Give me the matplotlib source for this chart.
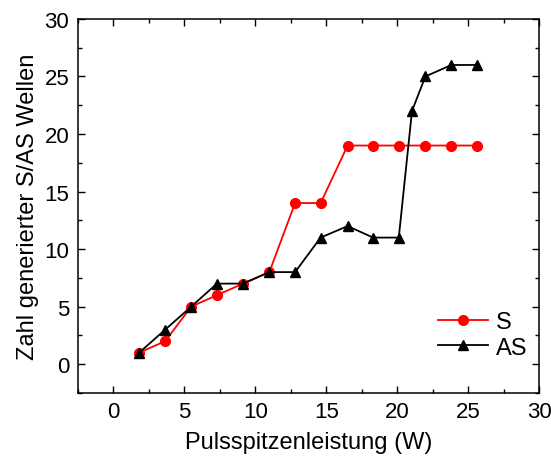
import matplotlib
matplotlib.use("Agg")
import matplotlib.pyplot as plt
from matplotlib.ticker import MultipleLocator

plt.rcParams['font.family'] = ['Liberation Sans', 'DejaVu Sans']

# Daten
leistung_s = [1.83, 3.66, 5.49, 7.3, 9.14, 10.99, 12.8, 14.6, 16.5, 18.3, 20.1, 21.97, 23.8, 25.6]
anzahl_s = [1, 2, 5, 6, 7, 8, 14, 14, 19, 19, 19, 19, 19, 19]

leistung_as = [1.83, 3.66, 5.49, 7.3, 9.14, 10.99, 12.8, 14.6, 16.5, 18.3, 20.1, 21.03, 21.97, 23.8, 25.6]
anzahl_as = [1, 3, 5, 7, 7, 8, 8, 11, 12, 11, 11, 22, 25, 26, 26]

fig, ax = plt.subplots(figsize=(5.51, 4.64), dpi=100)
fig.subplots_adjust(left=0.141, right=0.979, top=0.957, bottom=0.151)

ax.plot(leistung_s, anzahl_s, color='#ff0000', marker='o', markersize=7,
        linewidth=1.3, label='S')
ax.plot(leistung_as, anzahl_as, color='black', marker='^', markersize=7.5,
        linewidth=1.3, label='AS')

ax.set_xlim(-2.5, 30)
ax.set_ylim(-2.5, 30)
ax.xaxis.set_major_locator(MultipleLocator(5))
ax.xaxis.set_minor_locator(MultipleLocator(2.5))
ax.yaxis.set_major_locator(MultipleLocator(5))
ax.yaxis.set_minor_locator(MultipleLocator(2.5))
ax.tick_params(which='both', direction='in', top=True, right=True, labelsize=16)
ax.tick_params(which='major', length=5, width=1, pad=6)
ax.tick_params(which='minor', length=3, width=1)
for s in ax.spines.values():
    s.set_linewidth(1.1)

ax.set_xlabel('Pulsspitzenleistung (W)', fontsize=17, labelpad=6)
ax.set_ylabel('Zahl generierter S/AS Wellen', fontsize=17, labelpad=4)

ax.legend(loc='lower right', frameon=False, fontsize=17, handlelength=2.1,
          bbox_to_anchor=(1.02, 0.035), handletextpad=0.35, labelspacing=0.15)

fig.savefig('out.png', dpi=100)
